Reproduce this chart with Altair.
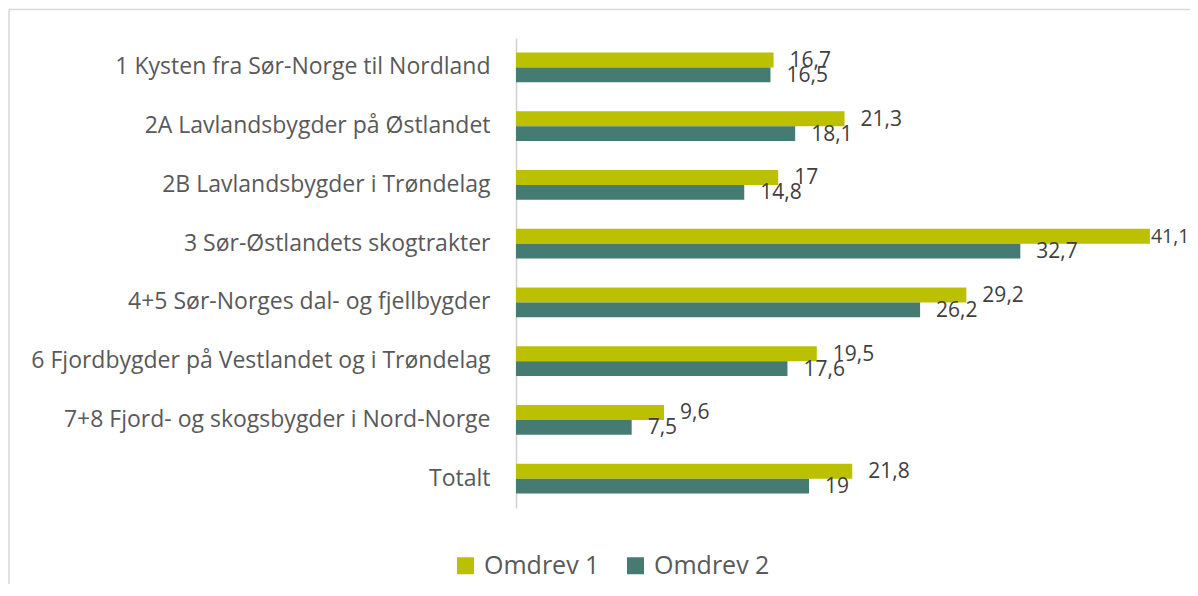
import altair as alt
import pandas as pd

categories = [
    "1 Kysten fra Sør-Norge til Nordland",
    "2A Lavlandsbygder på Østlandet",
    "2B Lavlandsbygder i Trøndelag",
    "3 Sør-Østlandets skogtrakter",
    "4+5 Sør-Norges dal- og fjellbygder",
    "6 Fjordbygder på Vestlandet og i Trøndelag",
    "7+8 Fjord- og skogsbygder i Nord-Norge",
    "Totalt",
]
series = ["Omdrev 1", "Omdrev 2"]
omdrev1 = [16.7, 21.3, 17, 41.1, 29.2, 19.5, 9.6, 21.8]
omdrev2 = [16.5, 18.1, 14.8, 32.7, 26.2, 17.6, 7.5, 19]
colors = ["#BBC100", "#457B72"]

rows = []
for c, a, b in zip(categories, omdrev1, omdrev2):
    rows.append({"kategori": c, "serie": series[0], "verdi": a})
    rows.append({"kategori": c, "serie": series[1], "verdi": b})
df = pd.DataFrame(rows)

FONT = "Open Sans"
W, H = 674, 470

y_enc = alt.Y("kategori:N", sort=categories,
              scale=alt.Scale(paddingInner=0.49, paddingOuter=0.245),
              axis=alt.Axis(title=None, ticks=False, grid=False, domainColor="#D0D0D0", domainWidth=1.5,
                            labelFont=FONT, labelFontSize=23, labelColor="#595959",
                            labelPadding=26, labelLimit=600))
x_enc = alt.X("verdi:Q", scale=alt.Scale(domain=[0, 43.7], nice=False),
              axis=None)
yoff = alt.YOffset("serie:N", sort=series)
color = alt.Color("serie:N", sort=series,
                  scale=alt.Scale(domain=series, range=colors),
                  legend=alt.Legend(title=None, orient="none", direction="horizontal",
                                    legendX=-63, legendY=515,
                                    symbolType="square", symbolSize=289,
                                    symbolStrokeWidth=0, symbolOpacity=1,
                                    labelFont=FONT, labelFontSize=25, labelColor="#595959",
                                    labelOffset=6, columnPadding=23))

base = alt.Chart(df)
bars = base.mark_bar(opacity=1).encode(y=y_enc, x=x_enc, yOffset=yoff, color=color)

lbl = base.transform_calculate(
    txt="replace(toString(datum.verdi), '.', ',')"
)
text_main = lbl.transform_filter("datum.verdi < 40").mark_text(
    align="left", baseline="middle", dx=16, dy=1, font=FONT, fontSize=21, color="#404040"
).encode(y=alt.Y("kategori:N", sort=categories), x=alt.X("verdi:Q", axis=None),
         yOffset=yoff, text="txt:N")
text_edge = lbl.transform_filter("datum.verdi >= 40").mark_text(
    align="left", baseline="middle", dx=1, dy=1, font=FONT, fontSize=19.5, color="#404040"
).encode(y=alt.Y("kategori:N", sort=categories), x=alt.X("verdi:Q", axis=None),
         yOffset=yoff, text="txt:N")

frame_top = alt.Chart(pd.DataFrame({"a": [0]})).mark_rule(color="#D9D9D9", strokeWidth=1.5).encode(
    x=alt.value(-507), x2=alt.value(W), y=alt.value(-28.5))
frame_left = alt.Chart(pd.DataFrame({"a": [0]})).mark_rule(color="#D9D9D9", strokeWidth=1.5).encode(
    x=alt.value(-507), y=alt.value(-28.5), y2=alt.value(H + 80))

chart = alt.layer(bars, text_main, text_edge, frame_top, frame_left).properties(
    width=W, height=H,
    background="white",
    autosize=alt.AutoSizeParams(type="none"),
    padding={"left": 508, "top": 30, "right": 0, "bottom": 76},
).configure_view(stroke="transparent", strokeWidth=0)

chart.save("out.html", embed_options={"renderer": "svg", "actions": False})
